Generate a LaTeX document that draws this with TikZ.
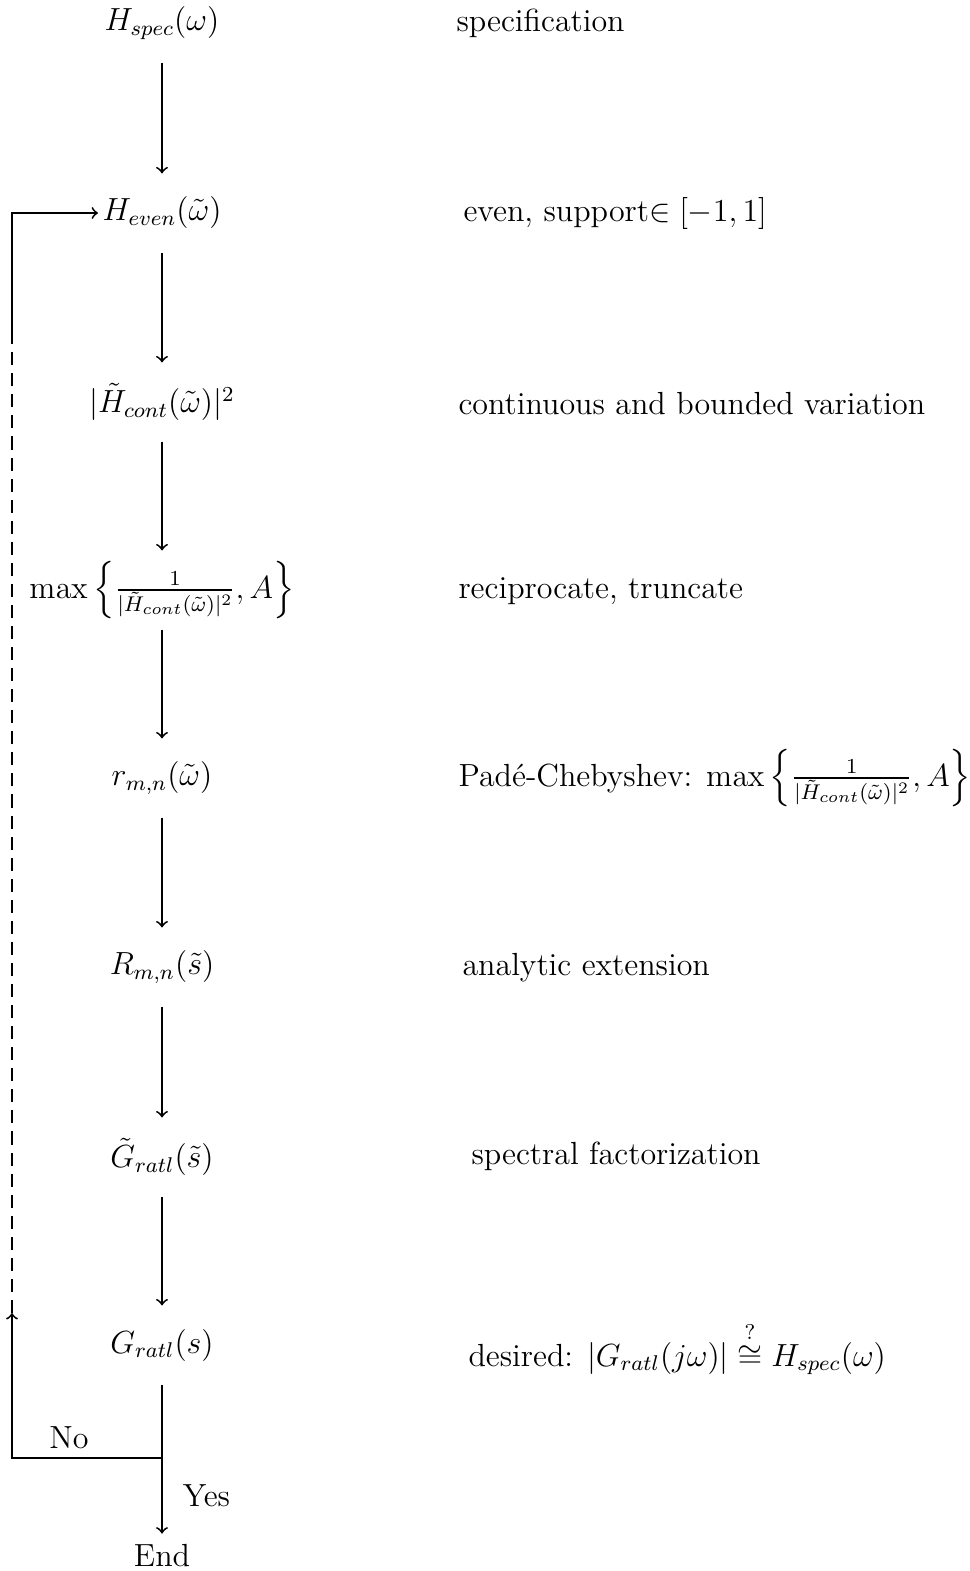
\documentclass[tikz,border=0pt]{standalone}
\usepackage{amsmath}
\begin{document}
\fontsize{12}{14.5}\selectfont
\begin{tikzpicture}[x=0.01319cm,y=-0.01319cm,
  every node/.style={font=\fontsize{12}{14.5}\selectfont},
  flow/.style={minimum height=1.029cm,inner xsep=1.5pt,inner ysep=0pt},
  lab/.style={anchor=west,inner sep=0pt},
  conn/.style={line width=0.7pt,->},
  plain/.style={line width=0.7pt},
  dashline/.style={line width=0.7pt,dash pattern=on 4.9pt off 3pt}]
\useasboundingbox (0,0) rectangle (970,1571);
% left column
\node[flow] (hspec) at (162,23) {$H_{spec}(\omega)$};
\node[flow] (heven) at (162,213) {$H_{even}(\tilde{\omega})$};
\node[flow] (hcont) at (162,402) {$|\tilde{H}_{cont}(\tilde{\omega})|^2$};
\node[flow] (hmax) at (162,590) {$\max\left\{\frac{1}{|\tilde{H}_{cont}(\tilde{\omega})|^2},A\right\}$};
\node[flow] (rmn) at (162,778) {$r_{m,n}(\tilde{\omega})$};
\node[flow] (Rmn) at (162,967) {$R_{m,n}(\tilde{s})$};
\node[flow] (gt) at (162,1157) {$\tilde{G}_{ratl}(\tilde{s})$};
\node[flow] (g) at (162,1345) {$G_{ratl}(s)$};
\node (end) at (162,1556) {End};
\coordinate (junc) at (162,1458);
\coordinate (corner) at (12,1458);
\coordinate (dashlo) at (12,1313);
\coordinate (dashhi) at (12,335);
% right labels
\node[lab] (l1) at (456,23) {specification};
\node[lab] (l2) at (463,214) {even, support$\in[-1,1]$};
\node[lab] (l3) at (458,404) {continuous and bounded variation};
\node[lab] (l4) at (458,591) {reciprocate, truncate};
\node[lab] (l5) at (458,778) {Padé-Chebyshev: $\max\left\{\frac{1}{|\tilde{H}_{cont}(\tilde{\omega})|^2},A\right\}$};
\node[lab] (l6) at (462,968) {analytic extension};
\node[lab] (l7) at (471,1156) {spectral factorization};
\node[lab] (l8) at (468,1348) {desired: $|G_{ratl}(j\omega)|\overset{?}{\cong}H_{spec}(\omega)$};
% connectors
\draw[conn] (hspec) -- (heven);
\draw[conn] (heven) -- (hcont);
\draw[conn] (hcont) -- (hmax);
\draw[conn] (hmax) -- (rmn);
\draw[conn] (rmn) -- (Rmn);
\draw[conn] (Rmn) -- (gt);
\draw[conn] (gt) -- (g);
\draw[plain] (g) -- (junc);
\draw[conn] (junc) -- node[right=7.5pt,inner sep=0pt] (yes) {Yes} (end);
\draw[conn] (junc) -- node[above=3pt,pos=0.62,inner sep=0pt] (no) {No} (corner) -- (dashlo);
\draw[dashline] (dashlo) -- (dashhi);
\draw[conn] (dashhi) |- (heven.west);
\end{tikzpicture}
\end{document}
